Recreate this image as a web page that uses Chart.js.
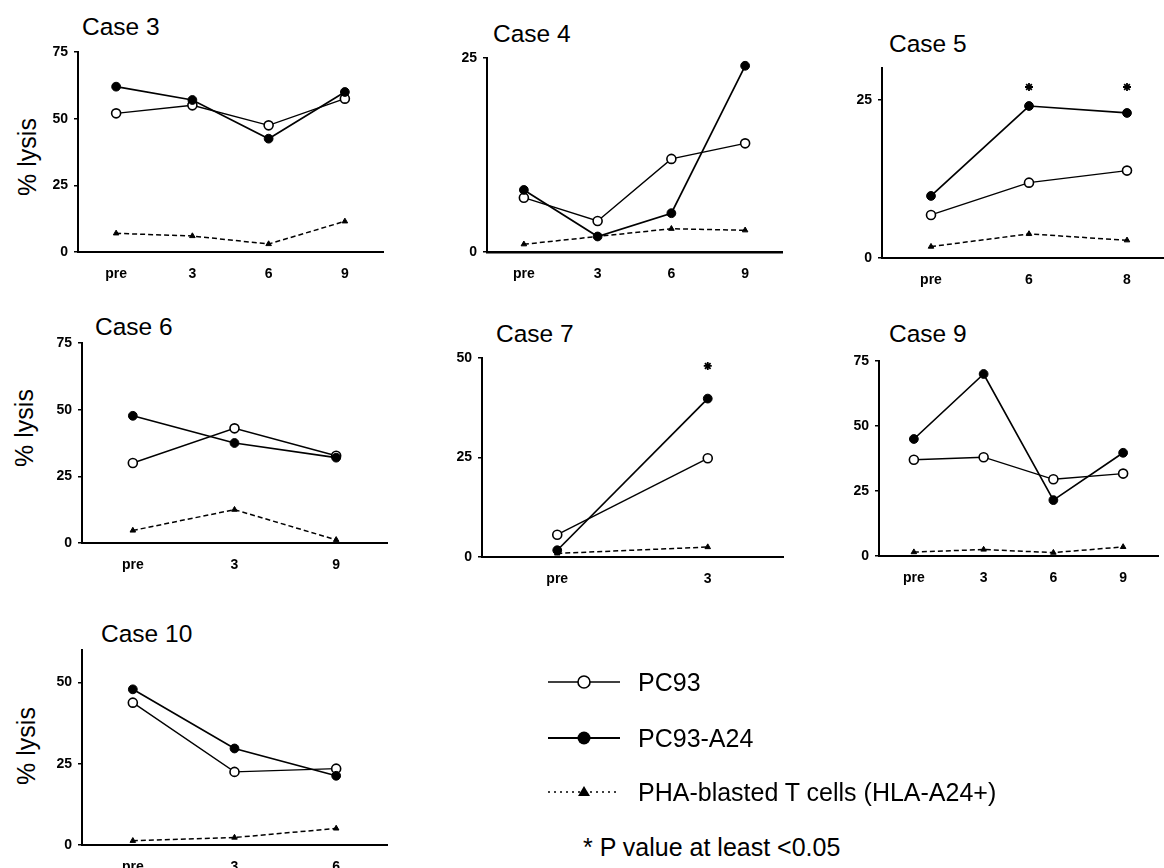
<!DOCTYPE html>
<html>
<head>
<meta charset="utf-8">
<script src="https://cdn.jsdelivr.net/npm/chart.js@4"></script>
<style>
  body { margin: 0; width: 1164px; height: 868px; overflow: hidden; background: #fff; position: relative;
         font-family: "Liberation Sans", Arial, sans-serif; color: #000; }
  .box { position: absolute; }
  .ttl { position: absolute; font-size: 24.5px; line-height: 24px; white-space: nowrap; }
  .ylab { position: absolute; font-size: 25px; line-height: 25px; white-space: nowrap;
          transform: translate(-50%, -50%) rotate(-90deg); }
  .leg { position: absolute; font-size: 25px; line-height: 24px; white-space: nowrap; }
</style>
</head>
<body>
<div class="ttl" style="left:82px;top:15px">Case 3</div>
<div class="ttl" style="left:493px;top:22px">Case 4</div>
<div class="ttl" style="left:889px;top:32px">Case 5</div>
<div class="ttl" style="left:95px;top:315px">Case 6</div>
<div class="ttl" style="left:496px;top:322px">Case 7</div>
<div class="ttl" style="left:889px;top:322px">Case 9</div>
<div class="ttl" style="left:101px;top:622px">Case 10</div>

<div class="ylab" style="left:27px;top:157px">% lysis</div>
<div class="ylab" style="left:24px;top:428px">% lysis</div>
<div class="ylab" style="left:26px;top:746px">% lysis</div>

<canvas id="legendSymbols" width="120" height="160" style="position:absolute;left:530px;top:660px"></canvas>
<div class="leg" style="left:638px;top:670px">PC93</div>
<div class="leg" style="left:638px;top:726px">PC93-A24</div>
<div class="leg" style="left:638px;top:780px">PHA-blasted T cells (HLA-A24+)</div>
<div class="leg" style="left:583px;top:835px">* P value at least &lt;0.05</div>

<script>
// data (% lysis)
const case3Cats = ["pre", "3", "6", "9"];
const case3PC93 = [52, 55, 47.5, 57.5];
const case3A24 = [62, 57, 42.5, 60];
const case3PHA = [7, 6, 3, 11.5];
const case3Stars = [null, null, null, null];
const case3Ticks = [0, 25, 50, 75];

const case4Cats = ["pre", "3", "6", "9"];
const case4PC93 = [7, 4, 12, 14];
const case4A24 = [8, 2, 5, 24];
const case4PHA = [1, 2, 3, 2.8];
const case4Stars = [null, null, null, 27.3];
const case4Ticks = [0, 25];

const case5Cats = ["pre", "6", "8"];
const case5PC93 = [6.8, 11.9, 13.8];
const case5A24 = [9.8, 24, 22.9];
const case5PHA = [1.8, 3.8, 2.8];
const case5Stars = [null, 27, 27];
const case5Ticks = [0, 25];

const case6Cats = ["pre", "3", "9"];
const case6PC93 = [30, 43, 32.7];
const case6A24 = [47.7, 37.5, 32];
const case6PHA = [4.7, 12.5, 1.2];
const case6Stars = [null, null, null];
const case6Ticks = [0, 25, 50, 75];

const case7Cats = ["pre", "3"];
const case7PC93 = [5.6, 24.8];
const case7A24 = [1.7, 39.8];
const case7PHA = [0.9, 2.5];
const case7Stars = [null, 48];
const case7Ticks = [0, 25, 50];

const case9Cats = ["pre", "3", "6", "9"];
const case9PC93 = [37, 38, 29.5, 31.7];
const case9A24 = [45, 70, 21.5, 39.7];
const case9PHA = [1.5, 2.5, 1.3, 3.5];
const case9Stars = [null, 77.3, null, null];
const case9Ticks = [0, 25, 50, 75];

const case10Cats = ["pre", "3", "6"];
const case10PC93 = [43.8, 22.5, 23.5];
const case10A24 = [47.9, 29.7, 21.3];
const case10PHA = [1.3, 2.3, 5.1];
const case10Stars = [null, null, null];
const case10Ticks = [0, 25, 50];

// where each plot area sits on the page (px) and its y limit
const panels = [
  { cats: case3Cats, pc93: case3PC93, a24: case3A24, pha: case3PHA, stars: case3Stars, ticks: case3Ticks, yMax: 75, left: 78, right: 383, top: 52, bottom: 252 },
  { cats: case4Cats, pc93: case4PC93, a24: case4A24, pha: case4PHA, stars: case4Stars, ticks: case4Ticks, yMax: 25, left: 487, right: 782, top: 58, bottom: 252, xBorder: 2.6 },
  { cats: case5Cats, pc93: case5PC93, a24: case5A24, pha: case5PHA, stars: case5Stars, ticks: case5Ticks, yMax: 30, left: 882, right: 1176, top: 68, bottom: 258 },
  { cats: case6Cats, pc93: case6PC93, a24: case6A24, pha: case6PHA, stars: case6Stars, ticks: case6Ticks, yMax: 75, left: 82, right: 387, top: 343, bottom: 543 },
  { cats: case7Cats, pc93: case7PC93, a24: case7A24, pha: case7PHA, stars: case7Stars, ticks: case7Ticks, yMax: 50, left: 482, right: 783, top: 358, bottom: 557 },
  { cats: case9Cats, pc93: case9PC93, a24: case9A24, pha: case9PHA, stars: case9Stars, ticks: case9Ticks, yMax: 75, left: 879, right: 1158, top: 361, bottom: 556 },
  { cats: case10Cats, pc93: case10PC93, a24: case10A24, pha: case10PHA, stars: case10Stars, ticks: case10Ticks, yMax: 60, left: 82, right: 387, top: 650, bottom: 845 },
];

const Y_W = 45, PAD_T = 30, PAD_R = 12, X_H = 36;
const tickFont = { family: "'Liberation Sans', Arial, sans-serif", size: 14, weight: "bold" };

function makePanel(p) {
  const w = p.right - p.left + Y_W + PAD_R;
  const h = p.bottom - p.top + PAD_T + X_H;
  const cv = document.createElement("canvas");
  cv.width = w;
  cv.height = h;
  cv.className = "box";
  cv.style.left = (p.left - Y_W) + "px";
  cv.style.top = (p.top - PAD_T) + "px";
  document.body.appendChild(cv);

  new Chart(cv, {
    type: "line",
    data: {
      labels: p.cats,
      datasets: [
        { data: p.pha, borderColor: "#000", borderWidth: 1.5, borderDash: [5, 3], pointStyle: "triangle",
          pointRadius: 3.2, pointBackgroundColor: "#000", pointBorderColor: "#000", pointBorderWidth: 1, clip: false },
        { data: p.a24, borderColor: "#000", borderWidth: 1.7, pointRadius: 4.4, pointBackgroundColor: "#000",
          pointBorderColor: "#000", pointBorderWidth: 1, clip: false },
        { data: p.pc93, borderColor: "#000", borderWidth: 1.4, pointRadius: 4.5, pointBackgroundColor: "#fff",
          pointBorderColor: "#000", pointBorderWidth: 1.6, clip: false },
        { data: p.stars, showLine: false, pointStyle: "star", pointRadius: 4, pointBorderColor: "#000",
          pointBorderWidth: 1.8, clip: false },
      ],
    },
    options: {
      responsive: false,
      animation: false,
      events: [],
      layout: { padding: { top: PAD_T, right: PAD_R, left: 0, bottom: 0 } },
      plugins: { legend: { display: false }, tooltip: { enabled: false } },
      elements: { line: { tension: 0 } },
      scales: {
        x: {
          type: "category",
          offset: true,
          grid: { display: false },
          border: { color: "#000", width: p.xBorder || 2 },
          ticks: { color: "#000", font: tickFont, padding: 6, maxRotation: 0 },
          afterFit(s) { s.height = X_H; },
        },
        y: {
          min: 0,
          max: p.yMax,
          grid: { drawOnChartArea: false, tickLength: 4, color: "#000", lineWidth: 1.5 },
          border: { color: "#000", width: 2 },
          ticks: { color: "#000", font: tickFont, padding: 6 },
          afterBuildTicks(s) { s.ticks = p.ticks.map(v => ({ value: v })); },
          afterFit(s) { s.width = Y_W; },
        },
      },
    },
  });
}

panels.forEach(makePanel);

// legend symbols
const lc = document.getElementById("legendSymbols").getContext("2d");
const ox = 530, oy = 660;
lc.strokeStyle = "#000";
lc.fillStyle = "#000";
// PC93
lc.lineWidth = 1.3;
lc.beginPath(); lc.moveTo(548 - ox, 682 - oy); lc.lineTo(620 - ox, 682 - oy); lc.stroke();
lc.beginPath(); lc.arc(584 - ox, 682 - oy, 6, 0, Math.PI * 2);
lc.fillStyle = "#fff"; lc.fill(); lc.lineWidth = 1.6; lc.stroke();
// PC93-A24
lc.fillStyle = "#000";
lc.lineWidth = 2;
lc.beginPath(); lc.moveTo(548 - ox, 738 - oy); lc.lineTo(620 - ox, 738 - oy); lc.stroke();
lc.beginPath(); lc.arc(584 - ox, 738 - oy, 6.5, 0, Math.PI * 2); lc.fill();
// PHA
lc.lineWidth = 1.6;
lc.setLineDash([2, 4]);
lc.beginPath(); lc.moveTo(548 - ox, 792 - oy); lc.lineTo(620 - ox, 792 - oy); lc.stroke();
lc.setLineDash([]);
lc.beginPath();
lc.moveTo(584 - ox, 786 - oy); lc.lineTo(590 - ox, 796 - oy); lc.lineTo(578 - ox, 796 - oy); lc.closePath(); lc.fill();
</script>
</body>
</html>
